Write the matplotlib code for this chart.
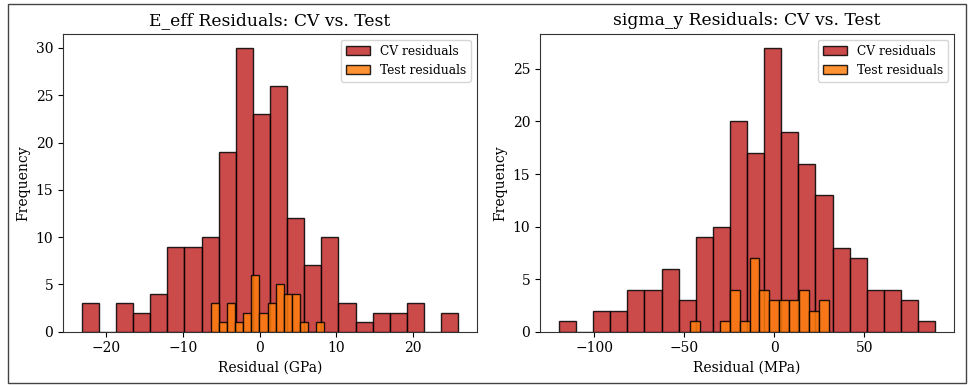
import numpy as np
import matplotlib
matplotlib.use("Agg")
import matplotlib.pyplot as plt
from matplotlib.patches import Rectangle

plt.rcParams['font.family'] = 'DejaVu Serif'

# histogram counts (bin range + counts per bin)
e_cv_range = (-23.17, 25.91)
e_cv_counts = [3, 0, 3, 2, 4, 9, 9, 10, 19, 30, 23, 26, 12, 7, 10, 3, 1, 2, 2, 3, 0, 2]
e_test_range = (-6.30, 8.39)
e_test_counts = [3, 1, 3, 1, 2, 6, 2, 3, 5, 4, 4, 1, 0, 1]

s_cv_range = (-119.8, 89.4)
s_cv_counts = [1, 0, 2, 2, 4, 4, 6, 3, 9, 10, 20, 17, 27, 19, 16, 13, 8, 7, 4, 4, 3, 1]
s_test_range = (-47.0, 30.4)
s_test_counts = [1, 0, 0, 1, 4, 1, 7, 4, 3, 3, 3, 4, 2, 3]

panels = [
    ("E_eff Residuals: CV vs. Test", "Residual (GPa)", e_cv_range, e_cv_counts, e_test_range, e_test_counts),
    ("sigma_y Residuals: CV vs. Test", "Residual (MPa)", s_cv_range, s_cv_counts, s_test_range, s_test_counts),
]

cv_color = '#c22a2a'
test_color = '#ff7f0e'


def draw_hist(ax, rng, counts, color, label):
    edges = np.linspace(rng[0], rng[1], len(counts) + 1)
    centers = (edges[:-1] + edges[1:]) / 2
    ax.hist(centers, bins=edges, weights=counts, color=color, alpha=0.85,
            edgecolor='black', linewidth=1.0, label=label)


fig = plt.figure(figsize=(9.69, 3.85), dpi=100)
lefts = [0.065, 0.5573]
for i, (title, xlabel, cvr, cvc, tr, tc) in enumerate(panels):
    ax = fig.add_axes([lefts[i], 0.1384, 0.4273, 0.774])
    draw_hist(ax, cvr, cvc, cv_color, 'CV residuals')
    draw_hist(ax, tr, tc, test_color, 'Test residuals')
    ax.set_title(title, fontsize=12.3)
    ax.set_xlabel(xlabel, fontsize=10)
    ax.set_ylabel('Frequency', fontsize=10)
    ax.tick_params(labelsize=10)
    for sp in ax.spines.values():
        sp.set_color('#333333')
    ax.legend(loc='upper right', fontsize=8.8)

# thin frame round the whole figure
fig.patches.append(Rectangle((0.0083, 0.005), 0.9887, 0.9846, transform=fig.transFigure,
                             fill=False, edgecolor='#444444', linewidth=1.0))

fig.savefig('out.png', dpi=100)
